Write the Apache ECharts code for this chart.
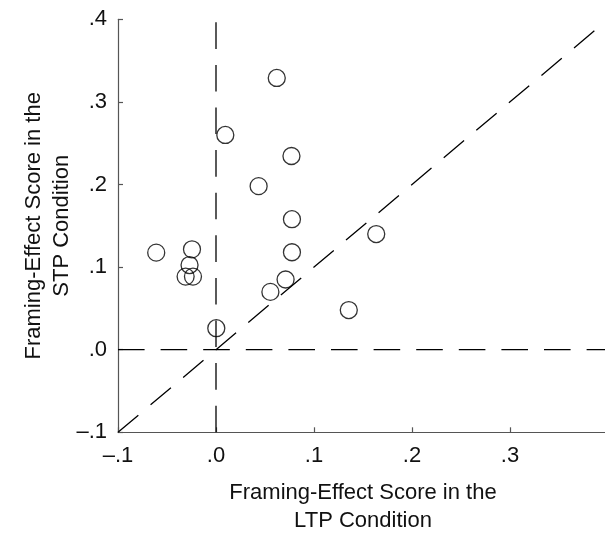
<!DOCTYPE html>
<html>
<head>
<meta charset="utf-8">
<script src="https://cdn.jsdelivr.net/npm/echarts@6/dist/echarts.min.js"></script>
<style>
html,body{margin:0;padding:0;background:#fff;}
#chart{width:605px;height:533px;}
</style>
</head>
<body>
<div id="chart"></div>
<script>
// LTP (x) and STP (y) framing-effect scores per participant
const ltpScores = [0.062, 0.0095, 0.077, 0.0435, 0.0775, 0.1635, -0.061, -0.0245, 0.0775, -0.027, -0.031, -0.0235, 0.071, 0.0555, 0.1355, 0.0003];
const stpScores = [0.329, 0.260, 0.2345, 0.198, 0.158, 0.140, 0.1175, 0.1215, 0.118, 0.1025, 0.0885, 0.0885, 0.085, 0.070, 0.048, 0.026];
// Reference lines
const verticalZero = [[0, -0.1], [0, 0.397]];
const horizontalZero = [[-0.1, 0], [0.4, 0]];
const identityLine = [[-0.1, -0.1], [0.388, 0.388]];
const xTitle = 'Framing-Effect Score in the\nLTP Condition';
const yTitle = 'Framing-Effect Score in the\nSTP Condition';

const fontFamily = '"Liberation Sans", Arial, Helvetica, sans-serif';
function fmtY(v) {
  const r = Math.round(v * 10);
  return (r < 0 ? '\u2013' : '') + '.' + Math.abs(r);
}
function fmtX(v) {
  const r = Math.round(v * 10);
  if (r >= 4) return '';
  return fmtY(v);
}
const points = ltpScores.map((x, i) => [x, stpScores[i]]);
const dash = { color: '#000', width: 1.3, type: [26.6, 16] };

const chart = echarts.init(document.getElementById('chart'), null, { renderer: 'canvas' });
chart.setOption({
  animation: false,
  backgroundColor: '#fff',
  grid: { left: 118, width: 490, top: 19.3, height: 413, containLabel: false, outerBoundsMode: 'none' },
  xAxis: {
    type: 'value', min: -0.1, max: 0.4, interval: 0.1,
    name: xTitle, nameLocation: 'middle', nameGap: 47, nameMoveOverlap: false,
    nameTextStyle: { fontFamily, fontSize: 22, color: '#111', lineHeight: 28 },
    axisLine: { show: true, onZero: false, lineStyle: { color: '#555', width: 1.2 } },
    axisTick: { show: true, inside: true, length: 5, lineStyle: { color: '#555', width: 1.2 } },
    axisLabel: { formatter: fmtX, fontFamily, fontSize: 22, color: '#111', margin: 13 },
    splitLine: { show: false }
  },
  yAxis: {
    type: 'value', min: -0.1, max: 0.4, interval: 0.1,
    name: yTitle, nameLocation: 'middle', nameGap: 42, nameRotate: 90, nameMoveOverlap: false,
    nameTextStyle: { fontFamily, fontSize: 22, color: '#111', lineHeight: 28 },
    axisLine: { show: true, onZero: false, lineStyle: { color: '#555', width: 1.2 } },
    axisTick: { show: true, inside: true, length: 5, lineStyle: { color: '#555', width: 1.2 } },
    axisLabel: { formatter: fmtY, fontFamily, fontSize: 22, color: '#111', margin: 11, padding: [6, 0, 0, 0] },
    splitLine: { show: false }
  },
  series: [
    { type: 'line', data: verticalZero, symbol: 'none', silent: true, lineStyle: dash, z: 1 },
    { type: 'line', data: horizontalZero, symbol: 'none', silent: true, lineStyle: dash, z: 1 },
    { type: 'line', data: identityLine, symbol: 'none', silent: true, lineStyle: dash, z: 1 },
    {
      type: 'scatter', data: points, symbol: 'circle', symbolSize: 17, z: 3,
      itemStyle: { color: 'rgba(0,0,0,0)', borderColor: '#000', borderWidth: 1.3 }
    }
  ]
});
</script>
</body>
</html>
